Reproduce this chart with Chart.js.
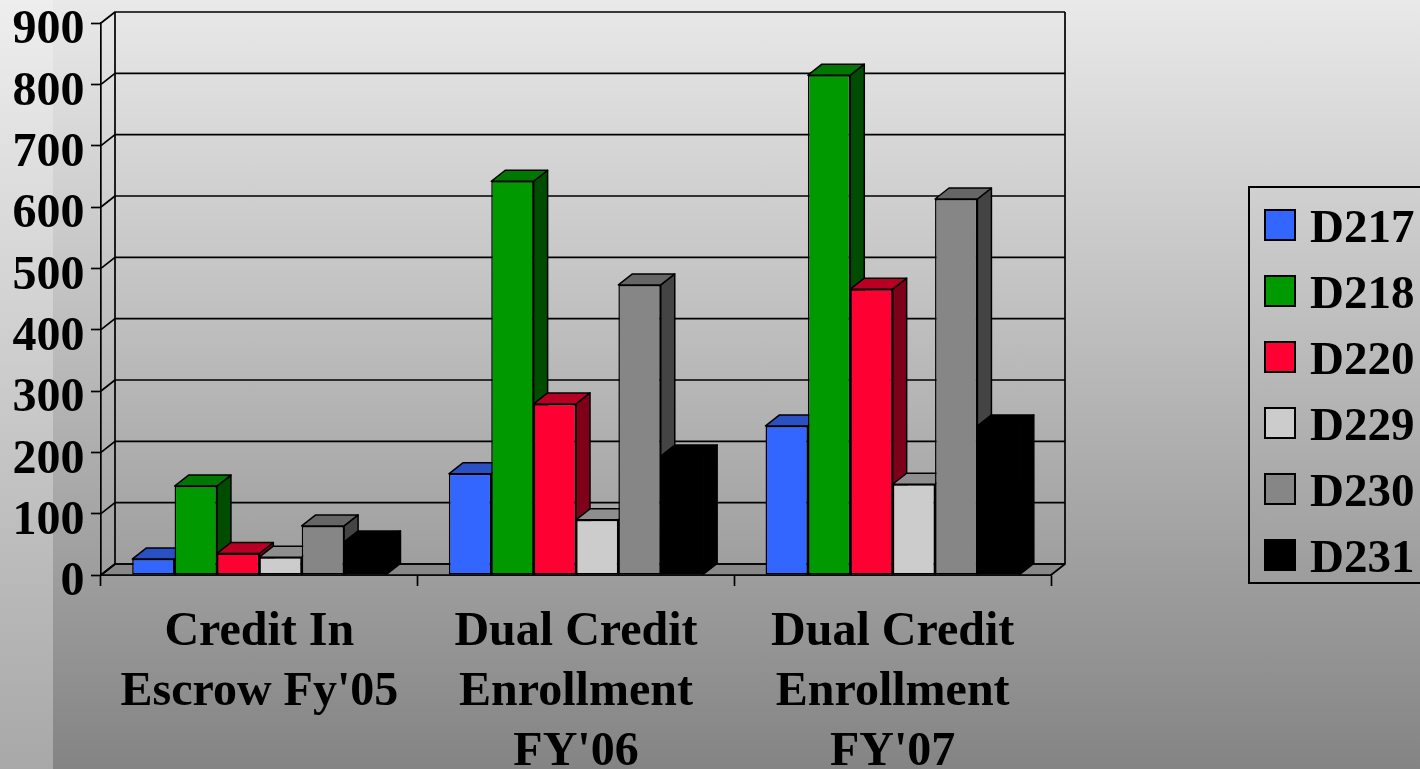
<!DOCTYPE html>
<html>
<head>
<meta charset="utf-8">
<script src="https://cdn.jsdelivr.net/npm/chart.js@4"></script>
<style>
html,body{margin:0;padding:0;width:1420px;height:769px;overflow:hidden;background:linear-gradient(180deg,#e9e9e9 0%,#848484 100%);}
#strip{position:absolute;left:0;top:0;width:53px;height:769px;background:linear-gradient(180deg,#eeeeee 0%,#a8a8a8 100%);}
canvas{position:absolute;left:0;top:0;display:block;}
</style>
</head>
<body>
<div id="strip"></div>
<canvas id="c" width="1420" height="769"></canvas>
<script>
const categories = [["Credit In","Escrow Fy'05"],["Dual Credit","Enrollment","FY'06"],["Dual Credit","Enrollment","FY'07"]];
const D217 = [26, 165, 243];
const D218 = [145, 642, 815];
const D220 = [35, 279, 466];
const D229 = [29, 90, 148];
const D230 = [80, 473, 613];
const D231 = [54, 194, 243];
const seriesNames = ["D217","D218","D220","D229","D230","D231"];
const seriesValues = [D217,D218,D220,D229,D230,D231];
const frontColors = ["#3366ff","#009900","#ff0033","#cccccc","#868686","#000000"];
const topColors = ["#2a50c4","#007700","#b80025","#8e8e8e","#666666","#000000"];
const sideColors = ["#1f3d99","#004c00","#7f0019","#666666","#444444","#000000"];
const FONT = '"Liberation Serif", "Times New Roman", serif';
const DX = 14, DY = 11, LW = 1.7, BW = 1.5;

function poly(ctx, pts, fill, lw){
  ctx.beginPath();
  pts.forEach((p,i)=> i ? ctx.lineTo(p[0],p[1]) : ctx.moveTo(p[0],p[1]));
  ctx.closePath();
  if(fill){ctx.fillStyle=fill;ctx.fill();}
  ctx.strokeStyle='#000';ctx.lineWidth=lw;ctx.lineJoin='round';ctx.stroke();
}
const box3d = {
  id:'box3d',
  beforeDatasetsDraw(chart){
    const {ctx} = chart, a = chart.chartArea, y = chart.scales.y;
    ctx.save();
    ctx.strokeStyle='#000';ctx.lineWidth=LW;
    poly(ctx,[[a.left,a.bottom],[a.left+DX,a.bottom-DY],[a.right+DX,a.bottom-DY],[a.right,a.bottom]],'#888888',LW);
    y.ticks.forEach(t=>{
      const py = y.getPixelForValue(t.value);
      ctx.beginPath();
      ctx.moveTo(a.left,py);
      ctx.lineTo(a.left+DX,py-DY);
      ctx.lineTo(a.right+DX,py-DY);
      ctx.stroke();
    });
    ctx.beginPath();
    ctx.moveTo(a.left+DX,a.top-DY);ctx.lineTo(a.left+DX,a.bottom-DY);
    ctx.moveTo(a.right+DX,a.top-DY);ctx.lineTo(a.right+DX,a.bottom-DY);
    ctx.stroke();
    // series left to right, so each bar's front covers its left neighbour's side
    seriesNames.forEach((n,i)=>{
      chart.getDatasetMeta(i).data.forEach(b=>{
        const p = b.getProps(['x','y','base','width'],true);
        const l = p.x-p.width/2, r = p.x+p.width/2;
        poly(ctx,[[r,p.y],[r+DX,p.y-DY],[r+DX,p.base-DY],[r,p.base]],sideColors[i],BW);
        poly(ctx,[[l,p.y],[l+DX,p.y-DY],[r+DX,p.y-DY],[r,p.y]],topColors[i],BW);
        b.draw(ctx);
      });
    });
    ctx.restore();
  },
  beforeDatasetDraw(){ return false; },
  afterDraw(chart){
    const {ctx} = chart;
    ctx.save();
    ctx.strokeStyle='#000';ctx.lineWidth=2;
    ctx.strokeRect(1249,187,200,396);
    ctx.font='bold 47px '+FONT;
    ctx.textBaseline='alphabetic';ctx.textAlign='left';
    seriesNames.forEach((n,i)=>{
      const top = 210+66*i;
      ctx.fillStyle=frontColors[i];
      ctx.fillRect(1265,top,30,30);
      ctx.strokeStyle='#000';ctx.lineWidth=2;
      ctx.strokeRect(1265,top,30,30);
      ctx.fillStyle='#000';
      ctx.fillText(n,1310,top+32);
    });
    ctx.restore();
  }
};
new Chart(document.getElementById('c'),{
  type:'bar',
  data:{labels:categories,datasets:seriesNames.map((n,i)=>({
    label:n,data:seriesValues[i],
    backgroundColor:frontColors[i],borderColor:'#000',
    borderWidth:i===5?0:BW,borderSkipped:false
  }))},
  options:{
    responsive:false,animation:false,devicePixelRatio:1,
    categoryPercentage:0.803,barPercentage:1,
    layout:{padding:{left:0,top:23,right:369,bottom:0}},
    plugins:{legend:{display:false},title:{display:false},tooltip:{enabled:false}},
    scales:{
      x:{
        grid:{offset:true,drawOnChartArea:false,drawTicks:true,tickLength:11,tickColor:'#000',tickWidth:LW},
        border:{display:true,color:'#000',width:LW},
        ticks:{color:'#000',font:{family:FONT,weight:'bold',size:48,lineHeight:60/48},maxRotation:0,minRotation:0,autoSkip:false,padding:17},
        afterFit(s){s.height=194;s.paddingLeft=0;s.paddingRight=0;}
      },
      y:{
        min:0,max:900,
        grid:{drawOnChartArea:false,drawTicks:true,tickLength:10,tickColor:'#000',tickWidth:LW},
        border:{display:true,color:'#000',width:LW},
        ticks:{color:'#000',stepSize:100,font:{family:FONT,weight:'bold',size:48},padding:6.5,labelOffset:8},
        afterFit(s){s.width=101;s.paddingTop=0;s.paddingBottom=0;}
      }
    }
  },
  plugins:[box3d]
});
</script>
</body>
</html>
